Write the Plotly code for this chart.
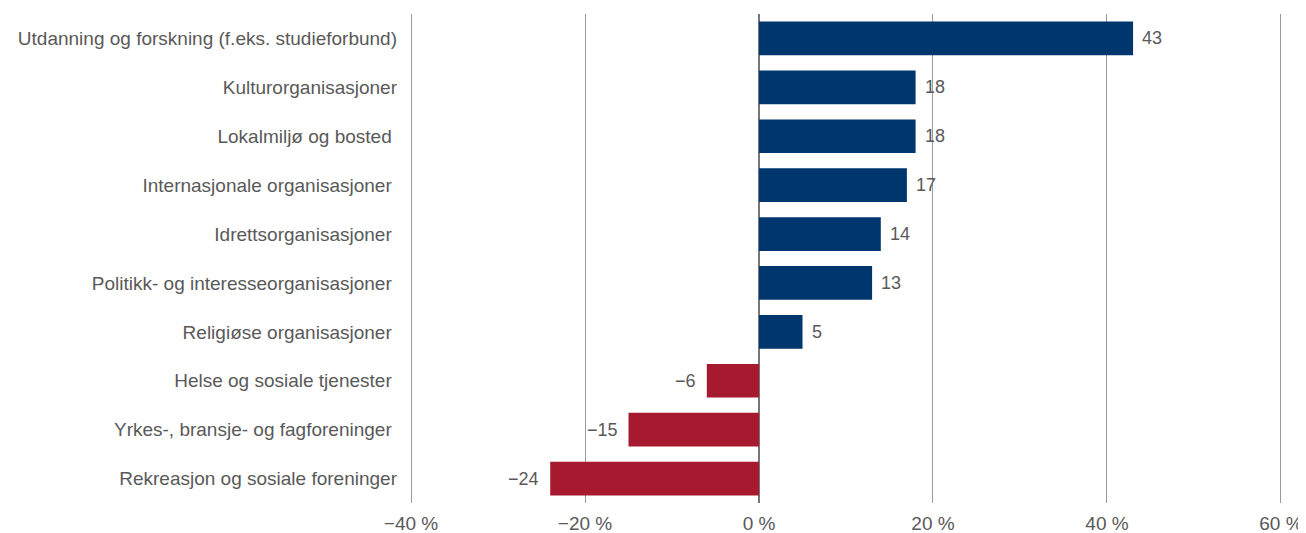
import plotly.graph_objects as go

categories = [
    "Utdanning og forskning (f.eks. studieforbund)",
    "Kulturorganisasjoner",
    "Lokalmiljø og bosted\u00a0",
    "Internasjonale organisasjoner\u00a0",
    "Idrettsorganisasjoner\u00a0",
    "Politikk- og interesseorganisasjoner\u00a0",
    "Religiøse organisasjoner\u00a0",
    "Helse og sosiale tjenester\u00a0",
    "Yrkes-, bransje- og fagforeninger\u00a0",
    "Rekreasjon og sosiale foreninger",
]
values = [43, 18, 18, 17, 14, 13, 5, -6, -15, -24]
tick_vals = [-40, -20, 0, 20, 40, 60]
tick_text = ["\u221240 %", "\u221220 %", "0 %", "20 %", "40 %", "60 %"]

BLUE = "#00366E"
RED = "#A6192E"
GRAY = "#595959"
FONT = "Liberation Sans, Arial, sans-serif"
FS = 19
FS_LABEL = 18

colors = [BLUE if v >= 0 else RED for v in values]

fig = go.Figure()
fig.add_trace(go.Bar(
    x=values, y=categories, orientation="h",
    marker=dict(color=colors, line=dict(width=0)),
    hoverinfo="skip",
))

for c, v in zip(categories, values):
    label = str(v) if v >= 0 else "\u2212" + str(abs(v))
    fig.add_annotation(
        x=v, y=c, text=label, showarrow=False,
        xanchor="left" if v >= 0 else "right",
        xshift=7 if v >= 0 else -9,
        font=dict(family=FONT, size=FS_LABEL, color=GRAY),
    )

# page body has an 8px margin; compensate so the plot lands where the reference has it
fig.update_layout(
    width=1298, height=525,
    margin=dict(l=402, r=24, t=6, b=30),
    paper_bgcolor="white", plot_bgcolor="white",
    bargap=0.31,
    showlegend=False,
    font=dict(family=FONT, size=FS, color=GRAY),
)
fig.update_xaxes(
    range=[-40.12, 60.12], tickvals=tick_vals, ticktext=tick_text,
    showgrid=True, gridcolor="#9a9a9a", gridwidth=1,
    zeroline=True, zerolinecolor="#777777", zerolinewidth=1.5,
    showline=False, ticks="", ticklabelstandoff=7, automargin=False,
    tickfont=dict(family=FONT, size=FS, color=GRAY),
)
fig.update_yaxes(
    autorange="reversed", showgrid=False, showline=False, ticks="",
    ticklabelstandoff=12, automargin=False,
    tickfont=dict(family=FONT, size=FS, color=GRAY),
)

fig.write_html("out.html")
